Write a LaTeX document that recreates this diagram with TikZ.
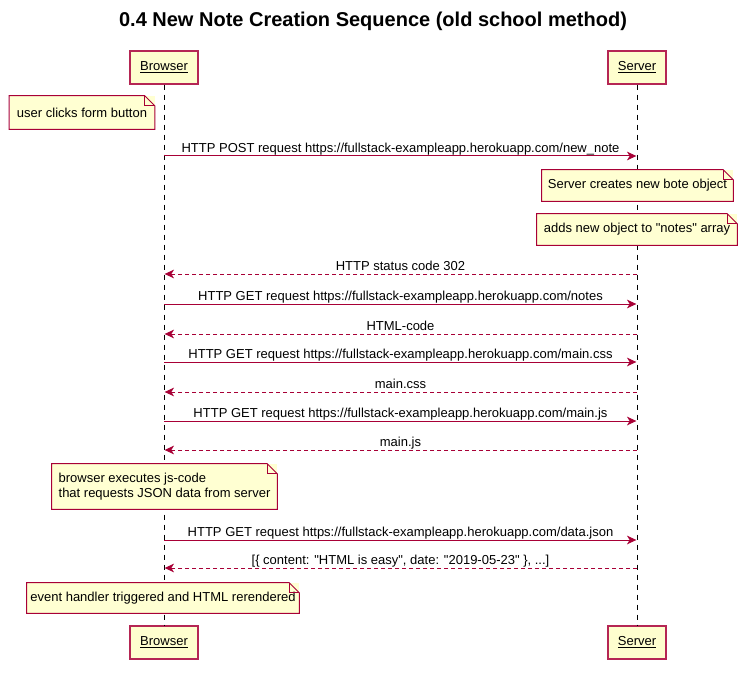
\documentclass[tikz,border=0pt]{standalone}
\usepackage{fontspec}
\setmainfont{Liberation Sans}
\usetikzlibrary{arrows.meta}

\definecolor{umlred}{HTML}{A80036}
\definecolor{umlfill}{HTML}{FEFECE}
\definecolor{notefill}{HTML}{FFFFD2}

\tikzset{
  txt/.style={font=\fontsize{9.75}{11.4}\selectfont},
  actor/.style={txt, draw=umlred!85, line width=0.85pt, fill=umlfill, minimum height=24.75pt, inner sep=0pt},
  note/.style={txt, fill=notefill, align=left, inner sep=0pt},
  lifeline/.style={line width=0.75pt, dash pattern=on 3.75pt off 3.75pt},
  msg/.style={umlred, line width=0.75pt, -{Stealth[length=7pt, width=6.5pt, inset=2pt]}, shorten >=0.5pt},
  reply/.style={msg, dash pattern=on 3pt off 2.25pt},
  msglabel/.style={txt, black, anchor=base, yshift=2.6pt, inner sep=0pt},
}

\begin{document}
\begin{tikzpicture}[x=0.75pt, y=-0.75pt]

\useasboundingbox[fill=white] (0,0) rectangle (746,681);

\node[font=\bfseries\fontsize{15}{18}\selectfont] (title) at (373,21.5) {0.4 New Note Creation Sequence (old school method)};

% participants
\node[actor, minimum width=51pt] (browser) at (164,67.5) {\underline{Browser}};
\node[actor, minimum width=43.5pt] (server) at (637,67.5) {\underline{Server}};
\node[actor, minimum width=51pt] (browser-end) at (164,642.5) {\underline{Browser}};
\node[actor, minimum width=43.5pt] (server-end) at (637,642.5) {\underline{Server}};

\draw[lifeline] (browser) -- (browser-end);
\draw[lifeline] (server) -- (server-end);

% notes
\node[note, minimum width=108.75pt, minimum height=24.75pt] (n-click) at (82,112.5) {user clicks form button};
\node[note, minimum width=143.25pt, minimum height=23.25pt] (n-create) at (637.5,185.5) {Server creates new bote object};
\node[note, minimum width=150pt, minimum height=23.25pt] (n-push) at (637,229.5) {adds new object to \textquotedbl notes\textquotedbl{} array};
\node[note, minimum width=168.75pt, minimum height=33.75pt] (n-exec) at (164.5,486.5) {browser executes js-code\\that requests JSON data from server};
\node[note, minimum width=204pt, minimum height=22.5pt] (n-render) at (163,598) {event handler triggered and HTML rerendered};

\foreach \n in {n-click,n-create,n-push,n-exec,n-render} {
  \draw[umlred, line width=0.75pt]
    (\n.south west) -- (\n.north west) -- ([xshift=-7.5pt]\n.north east)
    -- ([yshift=-7.5pt]\n.north east) -- (\n.south east) -- cycle;
  \draw[umlred, line width=0.75pt]
    ([xshift=-7.5pt]\n.north east) -- ([xshift=-7.5pt, yshift=-7.5pt]\n.north east)
    -- ([yshift=-7.5pt]\n.north east);
}

% message rows
\foreach \i/\y in {1/156, 2/274, 3/304, 4/334, 5/362, 6/392, 7/421, 8/450, 9/540, 10/568}
  \coordinate (m\i) at (0,\y);

\draw[msg] (browser|-m1) -- node[msglabel] (l1) {HTTP POST request https://fullstack-exampleapp.herokuapp.com/new\_note} (server|-m1);
\draw[reply] (server|-m2) -- node[msglabel] (l2) {HTTP status code 302} (browser|-m2);
\draw[msg] (browser|-m3) -- node[msglabel] (l3) {HTTP GET request https://fullstack-exampleapp.herokuapp.com/notes} (server|-m3);
\draw[reply] (server|-m4) -- node[msglabel] (l4) {HTML-code} (browser|-m4);
\draw[msg] (browser|-m5) -- node[msglabel] (l5) {HTTP GET request https://fullstack-exampleapp.herokuapp.com/main.css} (server|-m5);
\draw[reply] (server|-m6) -- node[msglabel] (l6) {main.css} (browser|-m6);
\draw[msg] (browser|-m7) -- node[msglabel] (l7) {HTTP GET request https://fullstack-exampleapp.herokuapp.com/main.js} (server|-m7);
\draw[reply] (server|-m8) -- node[msglabel] (l8) {main.js} (browser|-m8);
\draw[msg] (browser|-m9) -- node[msglabel] (l9) {HTTP GET request https://fullstack-exampleapp.herokuapp.com/data.json} (server|-m9);
\draw[reply] (server|-m10) -- node[msglabel] (l10) {[\{ content: \textquotedbl HTML is easy\textquotedbl, date: \textquotedbl 2019-05-23\textquotedbl{} \}, ...]} (browser|-m10);

\end{tikzpicture}
\end{document}
